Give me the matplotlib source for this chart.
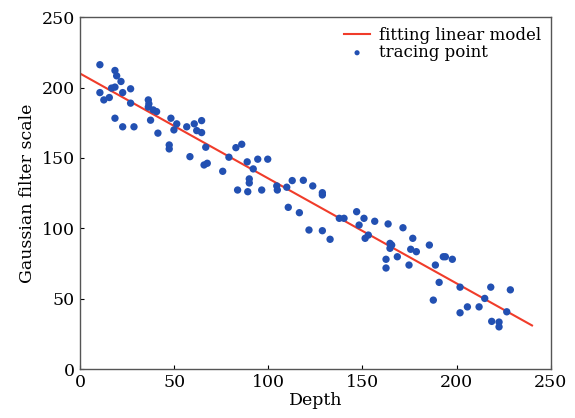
import matplotlib
matplotlib.use("Agg")
import matplotlib.pyplot as plt

# tracing points (depth, gaussian filter scale)
depth = [10.6, 18.6, 19.5, 21.8, 18.6, 16.8, 10.6, 22.7, 26.9, 12.7,
         15.6, 26.9, 18.6, 22.7, 28.7, 36.3, 36.6, 36.3, 38.9, 40.7,
         37.5, 41.4, 48.3, 51.4, 49.9, 56.7, 60.7, 64.6, 62.0, 64.6,
         47.4, 47.4, 58.4, 66.8, 65.9, 67.6,
         75.8, 79.1, 82.8, 85.9, 88.8, 92.0, 94.4, 99.7, 89.9, 89.9,
         83.7, 89.1, 96.5, 104.5, 104.8, 109.8, 112.7, 118.6, 123.6, 128.7,
         128.7, 110.6, 116.5, 137.7, 140.2, 121.6, 128.7, 132.8,
         146.9, 150.8, 148.2, 156.5, 163.6, 171.5, 176.7, 151.4, 153.1, 164.6,
         165.5, 164.6, 162.5, 162.5, 168.5, 174.7, 175.6, 178.6, 185.5, 188.7,
         192.9, 194.0, 197.7, 190.7, 201.8, 187.6, 218.1, 228.5, 214.9, 201.8,
         205.7, 211.9, 226.6, 218.6, 222.5, 222.5]
scale = [216.2, 212.1, 208.3, 204.3, 200.3, 199.6, 196.4, 196.4, 199.1, 191.2,
         192.9, 188.9, 178.2, 172.1, 172.1, 191.2, 188.4, 186.1, 184.1, 182.9,
         176.8, 167.6, 178.2, 174.2, 169.9, 172.1, 174.2, 176.5, 169.4, 168.0,
         159.2, 156.4, 150.9, 157.6, 145.0, 146.2,
         140.5, 150.5, 157.3, 159.7, 147.2, 142.2, 149.1, 149.1, 135.1, 132.2,
         127.2, 126.0, 127.2, 130.1, 127.2, 129.2, 133.9, 134.1, 130.1, 125.3,
         123.7, 114.9, 111.1, 107.1, 107.1, 98.8, 98.3, 92.2,
         111.8, 107.1, 102.3, 105.0, 103.1, 100.4, 92.9, 92.9, 95.2, 89.3,
         88.1, 85.8, 78.0, 71.8, 79.8, 73.9, 85.1, 83.4, 88.1, 73.9,
         79.8, 79.8, 78.0, 61.6, 58.2, 49.0, 58.2, 56.3, 50.2, 40.0,
         44.2, 44.2, 40.7, 33.9, 33.4, 30.0]

# fitted linear model end points
fit_x = [0, 240]
fit_y = [210, 31]

plt.rcParams["font.family"] = "DejaVu Serif"

fig = plt.figure(figsize=(5.75, 4.18), dpi=100)
ax = fig.add_axes([0.139, 0.117, 0.819, 0.842])

ax.plot(fit_x, fit_y, color="#f03c2a", lw=1.5, label="fitting linear model")
ax.scatter(depth, scale, s=28, color="#2250b2", edgecolors="none",
           label="tracing point", zorder=3)

ax.set_xlim(0, 250)
ax.set_ylim(0, 250)
ax.set_xticks([0, 50, 100, 150, 200, 250])
ax.set_yticks([0, 50, 100, 150, 200, 250])
ax.tick_params(direction="in", length=3, labelsize=12.5, width=0.8)
for s in ax.spines.values():
    s.set_color("#555555")
    s.set_linewidth(1.0)

ax.set_xlabel("Depth", fontsize=12.5, labelpad=1)
ax.set_ylabel("Gaussian filter scale", fontsize=12.5, labelpad=4)

ax.legend(loc="upper right", frameon=False, fontsize=12, labelspacing=0.0,
          handlelength=1.6, handletextpad=0.5, borderaxespad=0.2,
          scatterpoints=1, markerscale=0.7)

fig.savefig("out.png", dpi=100)
